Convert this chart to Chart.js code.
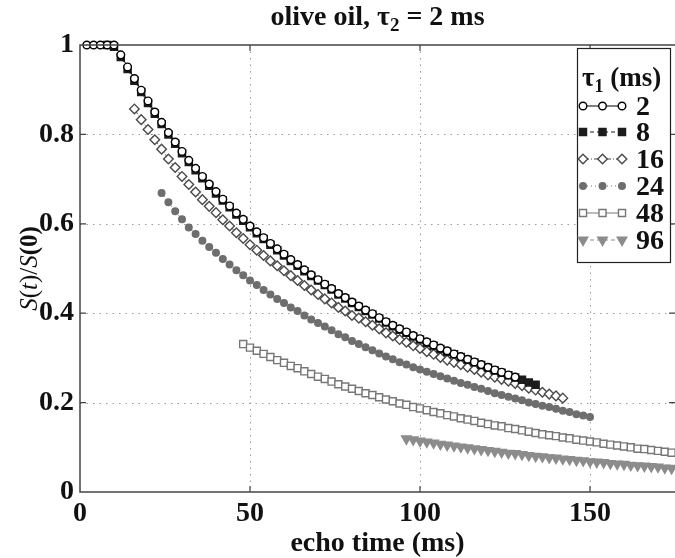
<!DOCTYPE html>
<html>
<head>
<meta charset="utf-8">
<script src="https://cdn.jsdelivr.net/npm/chart.js@4.4.0/dist/chart.umd.min.js"></script>
<style>
  html, body { margin: 0; padding: 0; background: #fff; }
  #myChart { display: block; }
</style>
</head>
<body>
<canvas id="myChart" width="675" height="558"></canvas>
<script>
// echo times (ms), 2 ms spacing
const echoTimes = [2,4,6,8,10,12,14,16,18,20,22,24,26,28,30,32,34,36,38,40,42,44,46,48,50,
  52,54,56,58,60,62,64,66,68,70,72,74,76,78,80,82,84,86,88,90,92,94,96,98,100,
  102,104,106,108,110,112,114,116,118,120,122,124,126,128,130,132,134,136,138,140,
  142,144,146,148,150,152,154,156,158,160,162,164,166,168,170,172,174];

const tau1Labels = ["2", "8", "16", "24", "48", "96"];
const startTimes = [2, 8, 16, 24, 48, 96];
const yTicks = [0, 0.2, 0.4, 0.6, 0.8, 1];
const xTicks = [0, 50, 100, 150];

const s2 = [1,1,1,1,1,0.978,0.951,0.925,0.899,0.875,0.850,0.827,0.804,0.783,0.762,0.742,
  0.724,0.706,0.689,0.672,0.655,0.640,0.624,0.610,0.595,0.582,0.569,0.556,0.544,0.532,
  0.520,0.509,0.497,0.486,0.475,0.465,0.455,0.444,0.435,0.425,0.416,0.407,0.399,0.390,
  0.381,0.373,0.365,0.358,0.350,0.343,0.336,0.329,0.322,0.316,0.309,0.303,0.297,0.291,
  0.285,0.279,0.273,0.268,0.262,0.257];
const s8 = [1,0.996,0.973,0.946,0.920,0.895,0.870,0.846,0.823,0.800,0.779,0.758,0.738,
  0.720,0.702,0.685,0.668,0.652,0.637,0.621,0.607,0.592,0.579,0.566,0.553,0.541,0.529,
  0.517,0.506,0.494,0.483,0.473,0.463,0.453,0.442,0.433,0.423,0.414,0.405,0.397,0.388,
  0.379,0.371,0.363,0.356,0.348,0.341,0.334,0.327,0.320,0.314,0.308,0.302,0.296,0.290,
  0.284,0.278,0.272,0.267,0.261,0.256,0.251,0.245,0.240];
const s16 = [0.857,0.833,0.811,0.788,0.767,0.745,0.726,0.706,0.688,0.671,0.654,0.639,
  0.625,0.609,0.595,0.580,0.567,0.553,0.541,0.529,0.517,0.506,0.495,0.484,0.473,0.462,
  0.452,0.442,0.432,0.423,0.413,0.405,0.395,0.389,0.381,0.373,0.365,0.356,0.349,0.341,
  0.335,0.327,0.321,0.314,0.308,0.301,0.295,0.290,0.285,0.279,0.274,0.268,0.262,0.257,
  0.252,0.248,0.243,0.238,0.232,0.228,0.223,0.219,0.215,0.210];
const s24 = [0.669,0.648,0.628,0.610,0.592,0.577,0.562,0.548,0.535,0.521,0.509,0.496,
  0.485,0.473,0.463,0.452,0.442,0.432,0.423,0.413,0.405,0.395,0.386,0.378,0.370,0.362,
  0.353,0.346,0.338,0.331,0.324,0.317,0.310,0.303,0.297,0.290,0.285,0.279,0.274,0.269,
  0.264,0.259,0.254,0.249,0.244,0.240,0.235,0.231,0.226,0.221,0.217,0.213,0.209,0.205,
  0.200,0.197,0.193,0.190,0.186,0.182,0.179,0.174,0.171,0.168];
const s48 = [0.331,0.323,0.316,0.309,0.302,0.295,0.289,0.282,0.277,0.270,0.264,0.258,
  0.253,0.247,0.241,0.236,0.231,0.226,0.221,0.217,0.212,0.207,0.203,0.198,0.195,0.190,
  0.187,0.183,0.179,0.176,0.172,0.169,0.165,0.162,0.159,0.155,0.152,0.149,0.147,0.143,
  0.141,0.138,0.135,0.132,0.129,0.127,0.125,0.122,0.120,0.117,0.115,0.113,0.111,0.108,
  0.106,0.104,0.102,0.100,0.097,0.096,0.094,0.092,0.090,0.088];
const s96 = [0.119,0.117,0.114,0.112,0.110,0.107,0.105,0.103,0.101,0.099,0.097,0.095,
  0.093,0.091,0.089,0.087,0.086,0.084,0.082,0.080,0.079,0.077,0.076,0.074,0.073,0.071,
  0.070,0.068,0.067,0.066,0.064,0.063,0.062,0.060,0.059,0.058,0.057,0.056,0.054,0.053];

const seriesValues = [s2, s8, s16, s24, s48, s96];

const serif = "'Liberation Serif', 'Times New Roman', serif";

const styles = [
  { line: "#000000", fill: "#ffffff", marker: "circle", r: 3.8, dash: [] },
  { line: "#1c1c1c", fill: "#1c1c1c", marker: "rect", r: 5, dash: [4, 3] },
  { line: "#4a4a4a", fill: "#ffffff", marker: "rectRot", r: 4.8, dash: [6, 2, 1, 2] },
  { line: "#6e6e6e", fill: "#6e6e6e", marker: "circle", r: 3.3, dash: [1, 3] },
  { line: "#777777", fill: "#ffffff", marker: "rect", r: 5, dash: [] },
  { line: "#8c8c8c", fill: "#8c8c8c", marker: "triangle", r: 5.5, rot: 180, dash: [4, 3] },
];
const markerBorder = 1.4;

function toPoints(start, values) {
  const k = echoTimes.indexOf(start);
  return values.map((v, i) => ({ x: echoTimes[k + i], y: v }));
}

const datasets = seriesValues.map((vals, i) => {
  const st = styles[i];
  return {
    label: tau1Labels[i],
    data: toPoints(startTimes[i], vals),
    borderColor: st.line,
    borderWidth: 1,
    borderDash: st.dash,
    pointStyle: st.marker,
    pointRotation: st.rot || 0,
    pointRadius: st.r,
    pointBorderWidth: markerBorder,
    pointBorderColor: st.line,
    pointBackgroundColor: st.fill,
    fill: false,
    tension: 0,
    clip: 10,
  };
});

// draws text runs with sub/italic pieces on one baseline
function drawRuns(ctx, runs, x, y, align) {
  let total = 0;
  runs.forEach(r => { ctx.font = r.font; total += ctx.measureText(r.text).width; });
  let cx = align === "center" ? x - total / 2 : x;
  ctx.textAlign = "left";
  ctx.textBaseline = "alphabetic";
  runs.forEach(r => {
    ctx.font = r.font;
    ctx.fillText(r.text, cx, y + (r.dy || 0));
    cx += ctx.measureText(r.text).width;
  });
}

function drawMarker(ctx, st, x, y) {
  ctx.save();
  ctx.fillStyle = st.fill;
  ctx.strokeStyle = st.line;
  ctx.lineWidth = markerBorder;
  ctx.setLineDash([]);
  Chart.helpers.drawPoint(ctx, {
    pointStyle: st.marker, rotation: st.rot || 0, radius: st.r, borderWidth: markerBorder,
  }, x, y);
  ctx.restore();
}

const framePlugin = {
  id: "frame",
  beforeDatasetsDraw(chart) {
    const { ctx, chartArea: a, scales: { x, y } } = chart;
    ctx.save();
    ctx.strokeStyle = "#9a9a9a";
    ctx.lineWidth = 1;
    ctx.setLineDash([1.5, 5]);
    xTicks.slice(1).forEach(v => {
      const px = Math.round(x.getPixelForValue(v)) + 0.5;
      ctx.beginPath(); ctx.moveTo(px, a.top); ctx.lineTo(px, a.bottom); ctx.stroke();
    });
    yTicks.slice(1, -1).forEach(v => {
      const py = Math.round(y.getPixelForValue(v)) + 0.5;
      ctx.beginPath(); ctx.moveTo(a.left, py); ctx.lineTo(a.right, py); ctx.stroke();
    });
    ctx.restore();
  },
  afterDraw(chart) {
    const { ctx, chartArea: a, scales: { x, y } } = chart;
    ctx.save();
    // axes box + inward ticks
    ctx.strokeStyle = "#444";
    ctx.lineWidth = 1.5;
    ctx.setLineDash([]);
    ctx.beginPath();
    ctx.moveTo(a.right, a.top); ctx.lineTo(a.left, a.top);
    ctx.lineTo(a.left, a.bottom); ctx.lineTo(a.right, a.bottom);
    ctx.stroke();
    const tl = 6;
    ctx.lineWidth = 1.2;
    xTicks.slice(1).forEach(v => {
      const px = x.getPixelForValue(v);
      ctx.beginPath();
      ctx.moveTo(px, a.bottom); ctx.lineTo(px, a.bottom - tl);
      ctx.moveTo(px, a.top); ctx.lineTo(px, a.top + tl);
      ctx.stroke();
    });
    yTicks.slice(1, -1).forEach(v => {
      const py = y.getPixelForValue(v);
      ctx.beginPath();
      ctx.moveTo(a.left, py); ctx.lineTo(a.left + tl, py);
      ctx.moveTo(a.right, py); ctx.lineTo(a.right - tl, py);
      ctx.stroke();
    });

    ctx.fillStyle = "#111";
    // title
    const tf = "bold 28px " + serif;
    const tsub = "bold 19px " + serif;
    drawRuns(ctx, [
      { text: "olive oil, \u03c4", font: tf },
      { text: "2", font: tsub, dy: 6 },
      { text: " = 2 ms", font: tf },
    ], (a.left + a.right) / 2, 25, "center");

    // x axis title
    drawRuns(ctx, [{ text: "echo time (ms)", font: "bold 28px " + serif }],
      (a.left + a.right) / 2, 551, "center");

    // y axis title
    ctx.save();
    ctx.translate(37, (a.top + a.bottom) / 2);
    ctx.rotate(-Math.PI / 2);
    const it = "italic 25px " + serif, rg = "25px " + serif, bd = "bold 25px " + serif;
    drawRuns(ctx, [
      { text: "S", font: it }, { text: "(", font: rg }, { text: "t", font: it },
      { text: ")/", font: rg }, { text: "S", font: it }, { text: "(0)", font: bd },
    ], 0, 0, "center");
    ctx.restore();

    // legend box
    const lx = 577, ly = 48, lw = 93, lh = 214;
    ctx.fillStyle = "#fff";
    ctx.fillRect(lx, ly, lw, lh);
    ctx.strokeStyle = "#222";
    ctx.lineWidth = 1.2;
    ctx.strokeRect(lx + 0.5, ly + 0.5, lw, lh);
    ctx.fillStyle = "#111";
    drawRuns(ctx, [
      { text: "\u03c4", font: "bold 27px " + serif },
      { text: "1", font: "bold 18px " + serif, dy: 6 },
      { text: " (ms)", font: "bold 27px " + serif },
    ], lx + 5, 86, "left");
    const rowY = [106, 132, 159, 186, 213, 240];
    tau1Labels.forEach((lab, i) => {
      const st = styles[i];
      const yy = rowY[i];
      ctx.save();
      ctx.strokeStyle = st.line;
      ctx.lineWidth = 1;
      ctx.setLineDash(st.dash);
      ctx.beginPath(); ctx.moveTo(583, yy); ctx.lineTo(622, yy); ctx.stroke();
      ctx.restore();
      [583, 602.5, 622].forEach(mx => drawMarker(ctx, st, mx, yy));
      ctx.fillStyle = "#111";
      ctx.font = "bold 28px " + serif;
      ctx.textAlign = "left";
      ctx.textBaseline = "middle";
      ctx.fillText(lab, 636, yy + 2);
    });
    ctx.restore();
  },
};

const tickFont = { family: serif, size: 28, weight: "bold" };

new Chart(document.getElementById("myChart").getContext("2d"), {
  type: "line",
  data: { datasets: datasets },
  options: {
    responsive: false,
    animation: false,
    layout: { autoPadding: false, padding: { top: 45, right: 0, left: 0, bottom: 0 } },
    plugins: { legend: { display: false }, tooltip: { enabled: false }, title: { display: false } },
    scales: {
      x: {
        type: "linear",
        min: 0,
        max: 175,
        grid: { display: false, drawTicks: false },
        border: { display: false },
        ticks: { stepSize: 50, includeBounds: false, color: "#111", font: tickFont, padding: 5, maxRotation: 0 },
        afterFit: s => { s.height = 66; },
      },
      y: {
        type: "linear",
        min: 0,
        max: 1,
        grid: { display: false, drawTicks: false },
        border: { display: false },
        ticks: {
          stepSize: 0.2, color: "#111", font: tickFont, padding: 6,
          callback: v => (v === 0 || v === 1) ? String(v) : v.toFixed(1),
        },
        afterFit: s => { s.width = 80; },
      },
    },
  },
  plugins: [framePlugin],
});
</script>
</body>
</html>
